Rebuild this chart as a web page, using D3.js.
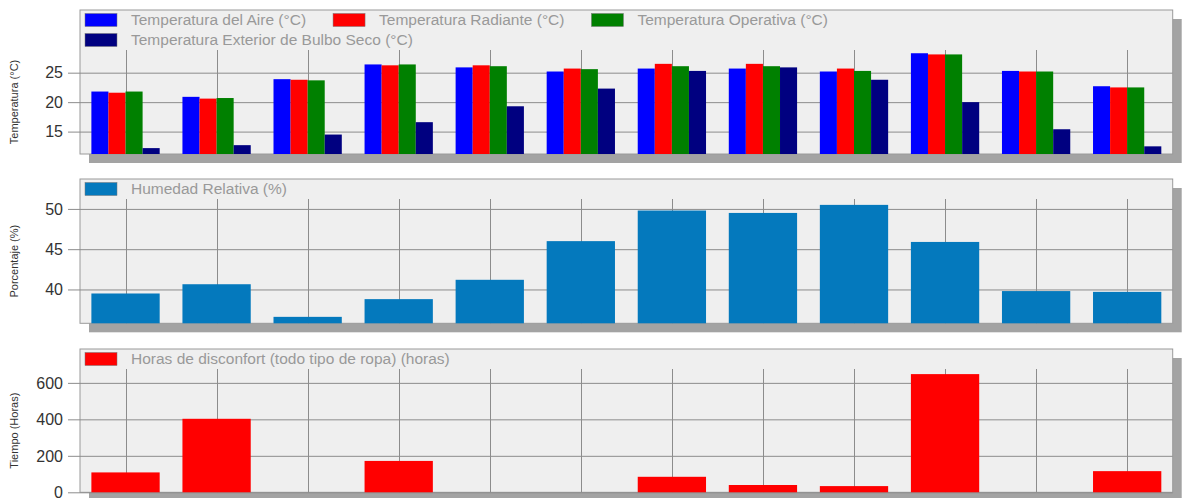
<!DOCTYPE html>
<html>
<head>
<meta charset="utf-8">
<script src="https://cdn.jsdelivr.net/npm/d3@7"></script>
<style>
  body { margin: 0; background: #fff; }
  svg { display: block; font-family: "Liberation Sans", Arial, sans-serif; }
</style>
</head>
<body>
<div id="chart"></div>
<script>
// datos (12 meses)
var meses = ["Ene", "Feb", "Mar", "Abr", "May", "Jun", "Jul", "Ago", "Sep", "Oct", "Nov", "Dic"];

var tempAire      = [21.8, 20.9, 23.9, 26.4, 25.9, 25.2, 25.7, 25.7, 25.2, 28.3, 25.3, 22.7];
var tempRadiante  = [21.6, 20.6, 23.8, 26.25, 26.25, 25.7, 26.5, 26.5, 25.7, 28.1, 25.2, 22.5];
var tempOperativa = [21.8, 20.7, 23.7, 26.4, 26.1, 25.6, 26.1, 26.1, 25.3, 28.1, 25.2, 22.5];
var tempExterior  = [12.2, 12.7, 14.5, 16.6, 19.3, 22.3, 25.3, 25.9, 23.8, 20.0, 15.4, 12.5];

var humedad = [39.5, 40.65, 36.6, 38.8, 41.2, 46.0, 49.8, 49.5, 50.5, 45.9, 39.8, 39.7];

var horasDisconfort = [109, 403, 0, 172, 0, 0, 85, 40, 34, 648, 0, 116];

var ticksTemp = [15, 20, 25];
var ticksHum = [40, 45, 50];
var ticksHoras = [0, 200, 400, 600];

var width = 1187, height = 498;
var boxLeft = 80, boxRight = 1172.7;
var shadow = 9;

var svg = d3.select("#chart").append("svg")
    .attr("width", width)
    .attr("height", height);

var x = d3.scaleBand()
    .domain(meses)
    .range([boxLeft, boxRight])
    .paddingInner(0.25)
    .paddingOuter(0.125);

function drawPanel(cfg) {
    var g = svg.append("g");
    var plotTop = cfg.top + 20 * cfg.legend.length;

    // sombra y fondo
    g.append("rect")
        .attr("x", boxLeft + shadow).attr("y", cfg.top + shadow)
        .attr("width", boxRight - boxLeft).attr("height", cfg.bottom - cfg.top)
        .attr("fill", "#a3a3a3");
    g.append("rect")
        .attr("x", boxLeft).attr("y", cfg.top)
        .attr("width", boxRight - boxLeft).attr("height", cfg.bottom - cfg.top)
        .attr("fill", "#efefef")
        .attr("stroke", "#9a9a9a");

    var y = d3.scaleLinear().domain(cfg.domain).range([cfg.bottom, plotTop]);

    // rejilla horizontal + ticks
    g.selectAll(".hgrid").data(cfg.ticks).enter().append("line")
        .attr("x1", boxLeft - 12).attr("x2", boxRight)
        .attr("y1", function (d) { return y(d) + 0.5; })
        .attr("y2", function (d) { return y(d) + 0.5; })
        .attr("stroke", "#8c8c8c");
    g.selectAll(".tlab").data(cfg.ticks).enter().append("text")
        .attr("x", 63)
        .attr("y", function (d) { return y(d); })
        .attr("dy", "0.36em")
        .attr("text-anchor", "end")
        .attr("font-size", 16)
        .attr("fill", "#333")
        .text(function (d) { return d; });

    // rejilla vertical
    g.selectAll(".vgrid").data(meses).enter().append("line")
        .attr("x1", function (d) { return Math.round(x(d) + x.bandwidth() / 2) + 0.5; })
        .attr("x2", function (d) { return Math.round(x(d) + x.bandwidth() / 2) + 0.5; })
        .attr("y1", plotTop).attr("y2", cfg.bottom)
        .attr("stroke", "#8c8c8c");

    // barras
    var xs = d3.scaleBand()
        .domain(d3.range(cfg.series.length))
        .range([0, x.bandwidth()]);
    cfg.series.forEach(function (s, k) {
        g.selectAll(".bar" + k).data(s.values).enter().append("rect")
            .attr("x", function (d, i) { return x(meses[i]) + xs(k); })
            .attr("width", xs.bandwidth())
            .attr("y", function (d) { return Math.min(y(d), cfg.bottom); })
            .attr("height", function (d) { return Math.max(0, cfg.bottom - y(d)); })
            .attr("fill", s.color);
    });

    // leyenda
    cfg.legend.forEach(function (row, r) {
        var lx = 85;
        var cy = cfg.top + 10 + r * 20;
        row.forEach(function (it) {
            g.append("rect")
                .attr("x", lx).attr("y", cy - 6.5)
                .attr("width", 32).attr("height", 13)
                .attr("fill", it.color)
                .attr("stroke", "#777").attr("stroke-width", 0.5);
            var t = g.append("text")
                .attr("x", lx + 46).attr("y", cy)
                .attr("dy", "0.35em")
                .attr("font-size", 15.5)
                .attr("fill", "#999")
                .text(it.name);
            lx = lx + 46 + t.node().getComputedTextLength() + 27;
        });
    });

    // titulo eje y
    g.append("text")
        .attr("transform", "translate(18," + ((plotTop + cfg.bottom) / 2) + ") rotate(-90)")
        .attr("text-anchor", "middle")
        .attr("font-size", 11)
        .attr("fill", "#333")
        .text(cfg.title);
}

drawPanel({
    top: 10, bottom: 154,
    domain: [11.2, 28.85],
    ticks: ticksTemp,
    title: "Temperatura (°C)",
    series: [
        { values: tempAire, color: "#0000ff" },
        { values: tempRadiante, color: "#ff0000" },
        { values: tempOperativa, color: "#008000" },
        { values: tempExterior, color: "#000080" }
    ],
    legend: [
        [{ name: "Temperatura del Aire (°C)", color: "#0000ff" },
         { name: "Temperatura Radiante (°C)", color: "#ff0000" },
         { name: "Temperatura Operativa (°C)", color: "#008000" }],
        [{ name: "Temperatura Exterior de Bulbo Seco (°C)", color: "#000080" }]
    ]
});

drawPanel({
    top: 179, bottom: 323.3,
    domain: [35.8, 51.23],
    ticks: ticksHum,
    title: "Porcentaje (%)",
    series: [{ values: humedad, color: "#0479bd" }],
    legend: [[{ name: "Humedad Relativa (%)", color: "#0479bd" }]]
});

drawPanel({
    top: 349, bottom: 492.3,
    domain: [0, 676],
    ticks: ticksHoras,
    title: "Tiempo (Horas)",
    series: [{ values: horasDisconfort, color: "#ff0000" }],
    legend: [[{ name: "Horas de disconfort (todo tipo de ropa) (horas)", color: "#ff0000" }]]
});
</script>
</body>
</html>
